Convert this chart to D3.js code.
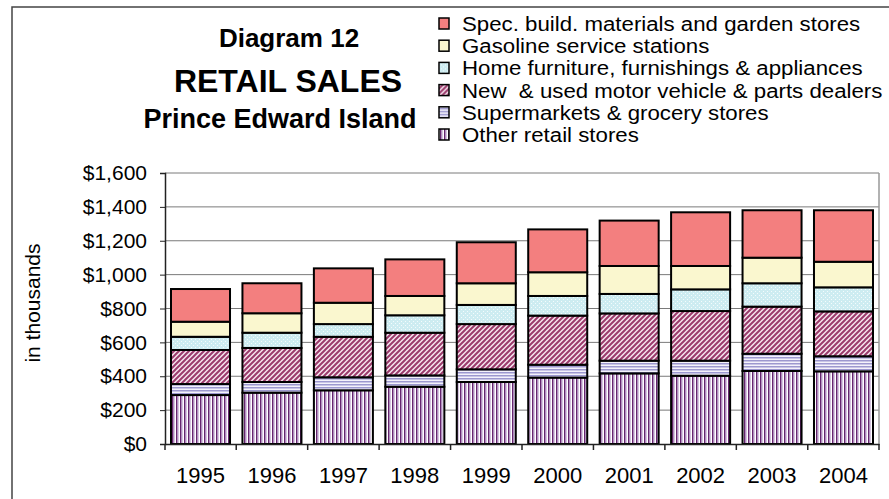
<!DOCTYPE html>
<html>
<head>
<meta charset="utf-8">
<script src="https://cdn.jsdelivr.net/npm/d3@7"></script>
<style>
body{margin:0;background:#fff;}
svg text{font-family:"Liberation Sans",Arial,sans-serif;fill:#000;}
</style>
</head>
<body>
<svg id="chart" width="889" height="499"></svg>
<script>
/* Data */
// years on the category axis
var YEARS=["1995","1996","1997","1998","1999","2000","2001","2002","2003","2004"];
// series, bottom of the stack first (thousands of dollars)
var OTHER_RETAIL=[289,303,317,338,366,392,417,403,431,429];
var SUPERMARKETS=[65,63,77,67,75,76,75,89,102,89];
var MOTOR_VEHICLE=[201,201,239,252,267,290,279,293,278,265];
var HOME_FURNITURE=[78,90,75,103,113,116,115,128,138,142];
var GASOLINE=[89,115,126,114,128,140,165,138,151,151];
var SPEC_BUILD=[193,177,203,216,242,253,268,317,280,304];
var SERIES_NAMES=["Other retail stores","Supermarkets & grocery stores","New  & used motor vehicle & parts dealers","Home furniture, furnishings & appliances","Gasoline service stations","Spec. build. materials and garden stores"];
var Y_TICKS=[0,200,400,600,800,1000,1200,1400,1600];

/* Global Config */
var PLOT_LEFT=165;
var PLOT_RIGHT=879;
var PLOT_TOP=173;
var PLOT_BOTTOM=444;
var svg=d3.select("#chart");

var seriesValues=[OTHER_RETAIL,SUPERMARKETS,MOTOR_VEHICLE,HOME_FURNITURE,GASOLINE,SPEC_BUILD];
var fills=["url(#pVert)","url(#pHoriz)","url(#pDiag)","url(#pDots)","#faf7cf","#f37f7f"];

var rows=YEARS.map(function(y,i){
	var r={year:y};
	for(var s=0;s<SERIES_NAMES.length;s++){r[SERIES_NAMES[s]]=seriesValues[s][i];}
	return r;
});

var x=d3.scaleBand().domain(YEARS).range([PLOT_LEFT,PLOT_RIGHT]).paddingInner(0.174).paddingOuter(0.084);
var y=d3.scaleLinear().domain([0,1600]).range([PLOT_BOTTOM,PLOT_TOP]);

//图案填充
var defs=svg.append("defs");
function makePattern(id,w,h){
	return defs.append("pattern").attr("id",id).attr("patternUnits","userSpaceOnUse").attr("width",w).attr("height",h);
}
var pv=makePattern("pVert",4,4);
pv.append("rect").attr("width",4).attr("height",4).attr("fill","#ffffff");
pv.append("rect").attr("x",0).attr("width",1.5).attr("height",4).attr("fill","#66256f");
pv.append("rect").attr("x",1.5).attr("width",1).attr("height",4).attr("fill","#ae8cc4");
var ph=makePattern("pHoriz",3,3);
ph.append("rect").attr("width",3).attr("height",3).attr("fill","#f4f2fb");
ph.append("rect").attr("y",0).attr("width",3).attr("height",1.5).attr("fill","#9c98cf");
var pd=makePattern("pDiag",5,5);
pd.append("rect").attr("width",5).attr("height",5).attr("fill","#f6e4ee");
pd.append("path").attr("d","M-1,1 l2,-2 M0,5 l5,-5 M4,6 l2,-2").attr("stroke","#9b3a6c").attr("stroke-width",2);
var pdot=makePattern("pDots",4,4);
pdot.append("rect").attr("width",4).attr("height",4).attr("fill","#cdecf1");
pdot.append("rect").attr("x",1).attr("y",1).attr("width",1).attr("height",1).attr("fill","#f4fbfc");
pdot.append("rect").attr("x",3).attr("y",3).attr("width",1).attr("height",1).attr("fill","#f4fbfc");

//外框
svg.append("path")
	.attr("d","M12,499 L12,7 L889,7")
	.attr("fill","none")
	.style("stroke","#444")
	.style("stroke-width","1.5px");

//网格线
svg.selectAll(".grid").data(Y_TICKS.slice(1)).enter().append("line")
	.attr("class","grid")
	.attr("x1",PLOT_LEFT).attr("x2",PLOT_RIGHT)
	.attr("y1",function(d){return y(d);}).attr("y2",function(d){return y(d);})
	.style("stroke","#7a7a7a").style("stroke-width","1px");
//绘图区右边框
svg.append("line")
	.attr("x1",PLOT_RIGHT).attr("x2",PLOT_RIGHT).attr("y1",PLOT_TOP).attr("y2",PLOT_BOTTOM)
	.style("stroke","#999").style("stroke-width","1.5px");

//堆叠柱
var stack=d3.stack().keys(SERIES_NAMES)(rows);
svg.selectAll(".layer").data(stack).enter().append("g")
	.attr("class","layer")
	.attr("fill",function(d,i){return fills[i];})
	.selectAll("rect").data(function(d){return d;}).enter().append("rect")
	.attr("x",function(d){return x(d.data.year);})
	.attr("width",x.bandwidth())
	.attr("y",function(d){return y(d[1]);})
	.attr("height",function(d){return y(d[0])-y(d[1]);})
	.style("stroke","#000")
	.style("stroke-width","2px");

//Y轴
var yAxis=svg.append("g")
	.attr("transform","translate("+PLOT_LEFT+",0)")
	.call(d3.axisLeft(y).tickValues(Y_TICKS).tickSize(5).tickPadding(13)
		.tickFormat(function(d){return "$"+d3.format(",")(d);}));
yAxis.select(".domain").style("stroke","#222").style("stroke-width","1.5px");
yAxis.selectAll(".tick line").attr("x2",-5).style("stroke","#222");
yAxis.selectAll("text").style("font-size","21px").attr("font-family","Liberation Sans, Arial, sans-serif");

//X轴
var xAxis=svg.append("g")
	.attr("transform","translate(0,"+PLOT_BOTTOM+")")
	.call(d3.axisBottom(x).tickSize(0).tickPadding(23));
xAxis.select(".domain").style("stroke","#222").style("stroke-width","1.5px");
xAxis.selectAll("text").style("font-size","22px").attr("font-family","Liberation Sans, Arial, sans-serif");
//类别分隔刻度
var bounds=YEARS.map(function(d){return x(d)-x.step()*x.paddingInner()/2;});
bounds[0]=PLOT_LEFT;
bounds.push(PLOT_RIGHT);
xAxis.selectAll(".sep").data(bounds).enter().append("line")
	.attr("class","sep")
	.attr("x1",function(d){return d;}).attr("x2",function(d){return d;})
	.attr("y1",0).attr("y2",6)
	.style("stroke","#222").style("stroke-width","1.5px");

//Y轴标题
svg.append("text")
	.attr("transform","translate(40,303) rotate(-90)")
	.attr("text-anchor","middle")
	.style("font-size","21px")
	.text("in thousands");

//标题
var titles=[
	{t:"Diagram 12",x:289,y:47,s:26},
	{t:"RETAIL SALES",x:288,y:92,s:32},
	{t:"Prince Edward Island",x:280,y:128,s:27}
];
svg.selectAll(".title").data(titles).enter().append("text")
	.attr("class","title")
	.attr("x",function(d){return d.x;})
	.attr("y",function(d){return d.y;})
	.attr("text-anchor","middle")
	.style("font-weight","bold")
	.style("font-size",function(d){return d.s+"px";})
	.text(function(d){return d.t;});

//图例（倒序）
var legendOrder=d3.range(SERIES_NAMES.length).reverse();
var lg=svg.selectAll(".legend").data(legendOrder).enter().append("g")
	.attr("class","legend")
	.attr("transform",function(d,i){return "translate(0,"+(31+i*22.2)+")";});
lg.append("rect")
	.attr("x",439).attr("y",-13).attr("width",10).attr("height",11)
	.attr("fill",function(d){return fills[d];})
	.style("stroke","#000").style("stroke-width","1.5px");
lg.append("text")
	.attr("transform","translate(462,0) scale(1.06,1)")
	.style("font-size","21px")
	.style("white-space","pre")
	.text(function(d){return SERIES_NAMES[d];});
</script>
</body>
</html>
